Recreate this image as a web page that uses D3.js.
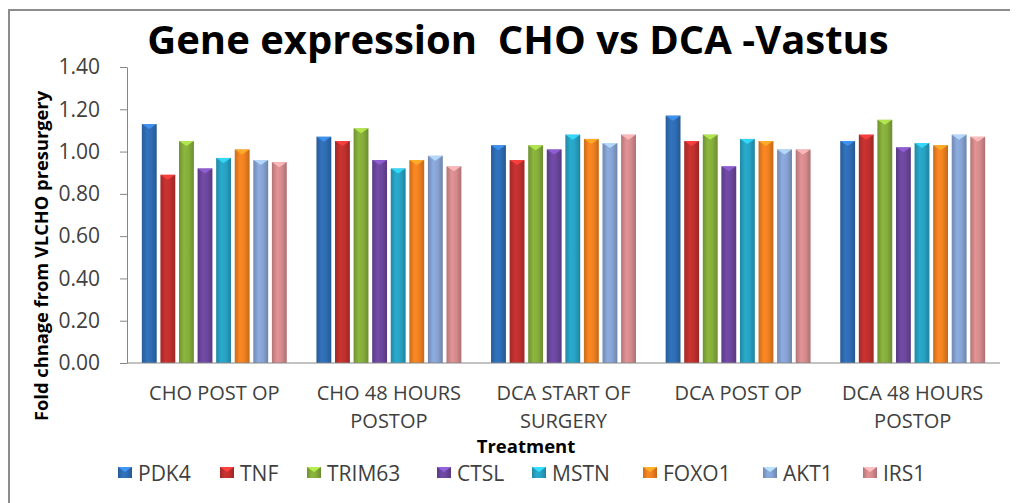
<!DOCTYPE html>
<html><head><meta charset="utf-8">
<script src="https://cdn.jsdelivr.net/npm/d3@7"></script>
<style>html,body{margin:0;padding:0;background:#fff;}svg{display:block;}</style>
</head><body>
<svg id="chart" width="1022" height="503"></svg>
<script>
const categories = [["CHO POST OP"], ["CHO 48 HOURS", "POSTOP"], ["DCA START OF", "SURGERY"], ["DCA POST OP"], ["DCA 48 HOURS", "POSTOP"]];
const genes = ["PDK4", "TNF", "TRIM63", "CTSL", "MSTN", "FOXO1", "AKT1", "IRS1"];
const colors = ["#2f6db4", "#c0302e", "#85ad3b", "#6c479e", "#27a2c3", "#f08120", "#87a3d4", "#d68b8d"];
const PDK4   = [1.13, 1.07, 1.03, 1.17, 1.05];
const TNF    = [0.89, 1.05, 0.96, 1.05, 1.08];
const TRIM63 = [1.05, 1.11, 1.03, 1.08, 1.15];
const CTSL   = [0.92, 0.96, 1.01, 0.93, 1.02];
const MSTN   = [0.97, 0.92, 1.08, 1.06, 1.04];
const FOXO1  = [1.01, 0.96, 1.06, 1.05, 1.03];
const AKT1   = [0.96, 0.98, 1.04, 1.01, 1.08];
const IRS1   = [0.95, 0.93, 1.08, 1.01, 1.07];
const yTicks = [0, 0.2, 0.4, 0.6, 0.8, 1.0, 1.2, 1.4];
const series = [PDK4, TNF, TRIM63, CTSL, MSTN, FOXO1, AKT1, IRS1];

(function () {
const svg = d3.select("#chart");
const font = "'Open Sans', sans-serif";
const textCol = "#404040";

// frame (only top and left edges visible in the original)
svg.append("path").attr("d", "M9,503V10H1010").attr("fill", "none")
  .attr("stroke", "#8c8c8c").attr("stroke-width", 2);

const pl = 127, pr = 1000, pt = 67, pb = 363;
const catKeys = categories.map(c => c.join(" "));
const x0 = d3.scaleBand().domain(catKeys).range([pl, pr]).paddingInner(0.17).paddingOuter(0.085);
const x1 = d3.scaleBand().domain(genes).range([0, x0.bandwidth()]).paddingInner(0.2);
const y = d3.scaleLinear().domain([0, 1.4]).range([pb, pt]);

const defs = svg.append("defs");
colors.forEach((c, i) => {
  const g = defs.append("linearGradient").attr("id", "g" + i).attr("x1", 0).attr("x2", 1).attr("y1", 0).attr("y2", 0);
  const base = d3.color(c);
  g.append("stop").attr("offset", "0%").attr("stop-color", base.darker(0.5));
  g.append("stop").attr("offset", "35%").attr("stop-color", base.brighter(0.15));
  g.append("stop").attr("offset", "65%").attr("stop-color", base);
  g.append("stop").attr("offset", "100%").attr("stop-color", base.darker(0.6));
});

const yAxis = d3.axisLeft(y).tickValues(yTicks).tickFormat(d3.format(".2f")).tickSize(7).tickSizeOuter(0).tickPadding(20);
const ga = svg.append("g").attr("transform", `translate(${pl},0)`).call(yAxis);
ga.select(".domain").attr("stroke", "#868686");
ga.selectAll(".tick line").attr("stroke", "#868686");
ga.selectAll(".tick text").attr("font-family", font).attr("font-size", 21).attr("fill", textCol);

const groups = svg.append("g").selectAll("g").data(catKeys).join("g")
  .attr("transform", d => `translate(${x0(d)},0)`);
groups.each(function (cat, ci) {
  const g = d3.select(this);
  genes.forEach((gene, gi) => {
    const v = series[gi][ci];
    const bx = x1(gene), bw = x1.bandwidth();
    g.append("rect").attr("x", bx).attr("y", y(v)).attr("width", bw).attr("height", y(0) - y(v))
      .attr("fill", `url(#g${gi})`);
    const lc = d3.color(colors[gi]).brighter(0.9);
    g.append("path").attr("d", `M${bx},${y(v)}L${bx + bw},${y(v)}L${bx + bw / 2},${y(v) + 5}Z`)
      .attr("fill", lc).attr("opacity", 0.85);
  });
});

svg.append("line").attr("x1", pl).attr("x2", pr).attr("y1", pb).attr("y2", pb)
  .attr("stroke", "#868686");

categories.forEach((lines, i) => {
  const cx = x0(catKeys[i]) + x0.bandwidth() / 2;
  lines.forEach((l, j) => svg.append("text").attr("x", cx).attr("y", 400 + j * 27.5)
    .attr("text-anchor", "middle").attr("font-family", font).attr("font-size", 20)
    .attr("fill", textCol).text(l));
});

svg.append("text").attr("x", 526).attr("y", 453).attr("text-anchor", "middle")
  .attr("font-family", font).attr("font-weight", "bold").attr("font-size", 18.5).attr("fill", "#000").text("Treatment");
svg.append("text").attr("transform", "translate(48,256) rotate(-90)").attr("text-anchor", "middle")
  .attr("font-family", font).attr("font-weight", "bold").attr("font-size", 18.3).attr("fill", "#000")
  .text("Fold chnage from VLCHO presurgery");

svg.append("text").attr("x", 518).attr("y", 54).attr("text-anchor", "middle")
  .attr("font-family", font).attr("font-weight", "bold").attr("font-size", 40).attr("fill", "#000")
  .style("white-space", "pre").text("Gene expression  CHO vs DCA -Vastus");

const legX = [118, 220, 307, 437, 532, 643, 763, 863];
const leg = svg.append("g").selectAll("g").data(genes).join("g")
  .attr("transform", (d, i) => `translate(${legX[i]},467)`);
leg.append("rect").attr("width", 14).attr("height", 11).attr("fill", (d, i) => `url(#g${i})`);
leg.append("path").attr("d", "M0,0L14,0L7,5Z").attr("fill", (d, i) => d3.color(colors[i]).brighter(0.9));
leg.append("text").attr("x", 20).attr("y", 13.5).attr("font-family", font).attr("font-size", 21)
  .attr("fill", textCol).text(d => d);
})();
</script>
</body></html>
